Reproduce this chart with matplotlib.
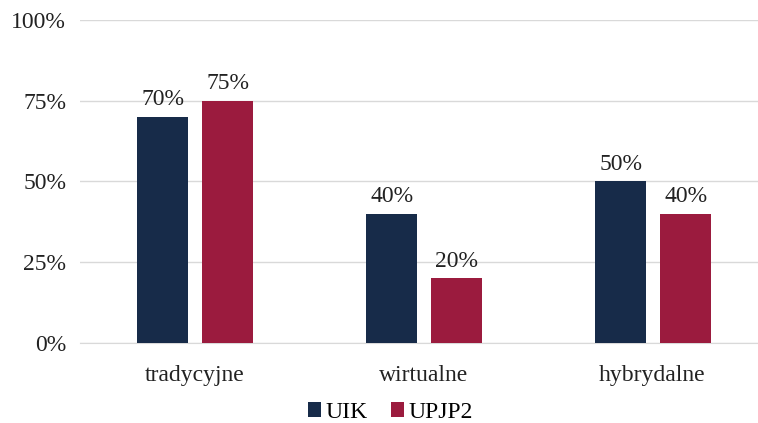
import matplotlib.pyplot as plt
import numpy as np

categories = ["tradycyjne", "wirtualne", "hybrydalne"]
uik = [70, 40, 50]
upjp2 = [75, 20, 40]
series = ["UIK", "UPJP2"]
yticks = [0, 25, 50, 75, 100]

plt.rcParams['font.family'] = ['Liberation Serif', 'DejaVu Serif']

fig = plt.figure(figsize=(7.58, 4.23), dpi=100)
ax = fig.add_axes([0.1055, 0.189, 0.894, 0.764])

x = np.arange(len(categories))
w = 0.223
b1 = ax.bar(x - 0.25 + w / 2, uik, w, color="#172B49", label=series[0], zorder=3)
b2 = ax.bar(x + 0.034 + w / 2, upjp2, w, color="#9B1B3E", label=series[1], zorder=3)

for bars, vals in [(b1, uik), (b2, upjp2)]:
    for r, v in zip(bars, vals):
        ax.text(r.get_x() + r.get_width() / 2, v + 2, f"{v}%", ha="center", va="bottom", fontsize=17, color="#222222")

ax.set_xlim(-0.5, 2.46)
ax.set_ylim(0, 100)
ax.set_yticks(yticks)
ax.set_yticklabels([f"{t}%" for t in yticks], fontsize=17, color="#222222")
ax.set_xticks(x)
ax.set_xticklabels(categories, fontsize=17, color="#222222")
ax.tick_params(length=0, pad=10)
ax.tick_params(axis="x", pad=16)
ax.grid(axis="y", color="#D9D9D9", linewidth=1, zorder=0)
for s in ["top", "right", "left"]:
    ax.spines[s].set_visible(False)
ax.spines["bottom"].set_color("#D9D9D9")

fig.legend(loc="lower center", bbox_to_anchor=(0.515, -0.05), ncol=2, frameon=False, fontsize=17,
           handlelength=0.55, handleheight=0.55, handletextpad=0.2, columnspacing=1.0)

fig.savefig("out.png", dpi=100)
